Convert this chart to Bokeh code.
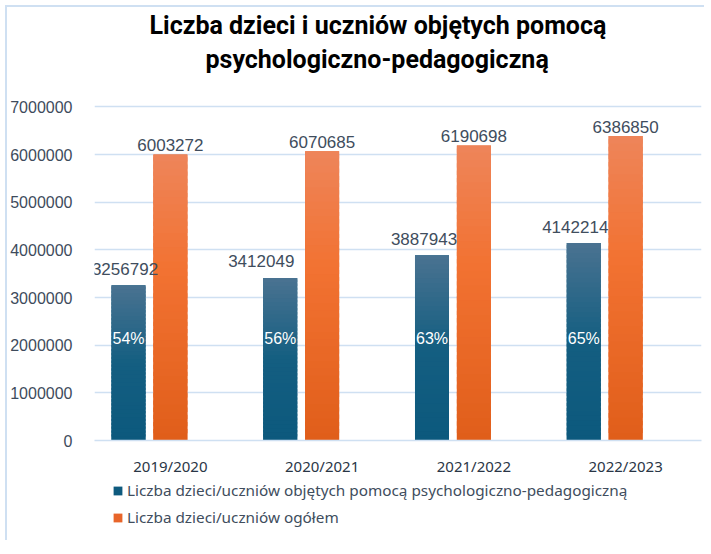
from bokeh.plotting import figure
from bokeh.layouts import column
from bokeh.models import (ColumnDataSource, FactorRange, Range1d, FixedTicker,
                          Legend, LegendItem, Title)
from bokeh.transform import dodge
from bokeh.core.properties import value
from bokeh.embed import file_html
from bokeh.resources import INLINE

# ---------------- data ----------------
years = ["2019/2020", "2020/2021", "2021/2022", "2022/2023"]
supported = [3256792, 3412049, 3887943, 4142214]
total = [6003272, 6070685, 6190698, 6386850]
share_labels = ["54%", "56%", "63%", "65%"]
series_names = [
    "Liczba dzieci/uczniów objętych pomocą psychologiczno-pedagogiczną",
    "Liczba dzieci/uczniów ogółem",
]
title_lines = ["Liczba dzieci i uczniów objętych pomocą", "psychologiczno-pedagogiczną"]
y_ticks = [0, 1000000, 2000000, 3000000, 4000000, 5000000, 6000000, 7000000]
y_tick_labels = ["0", "1000000", "2000000", "3000000", "4000000", "5000000", "6000000", "7000000"]

# ---------------- style ----------------
BLUE_STOPS = [(0.0, (12, 89, 125)), (0.5, (20, 94, 129)), (1.0, (74, 115, 145))]
ORANGE_STOPS = [(0.0, (224, 94, 26)), (0.6, (242, 114, 50)), (1.0, (238, 133, 90))]
BLUE_SOLID = "#0e5a7e"
ORANGE_SOLID = "#e8652a"
BAR_W = 0.224
SLOT = 0.276
BLUE_LABEL_DX = [-3.5, -19, -8, -8.5]
PCT_Y = 2140000
GRID = "#cfe0f2"
TXT = "#404d5d"
N_SLICES = 40
TITLE_OFFSETS = [55, 111]      # px from the plot frame's left edge
TITLE_STANDOFF = 3

W = 697


def hexc(c):
    return "#%02x%02x%02x" % tuple(int(round(v)) for v in c)


def interp(stops, t):
    for (t0, c0), (t1, c1) in zip(stops[:-1], stops[1:]):
        if t <= t1:
            f = (t - t0) / (t1 - t0)
            return hexc([a + (b - a) * f for a, b in zip(c0, c1)])
    return hexc(stops[-1][1])


def slices(vals, stops):
    xs, bots, tops, cols = [], [], [], []
    for cat, v in zip(years, vals):
        for k in range(N_SLICES):
            xs.append(cat)
            bots.append(v * k / N_SLICES)
            tops.append(min(v, v * (k + 1.6) / N_SLICES))
            cols.append(interp(stops, (k + 0.5) / N_SLICES))
    return ColumnDataSource(dict(x=xs, bottom=bots, top=tops, color=cols))


p = figure(
    x_range=FactorRange(factors=years, range_padding=0),
    y_range=Range1d(0, 7050000),
    width=W, height=473,
    output_backend="svg", toolbar_location=None,
    min_border_left=85, min_border_right=3,
    min_border_top=97, min_border_bottom=40,
)
p.outline_line_color = None
p.background_fill_color = "white"
p.border_fill_color = "white"

src = ColumnDataSource(dict(
    years=years,
    supported=supported,
    total=total,
    supported_txt=[str(v) for v in supported],
    total_txt=[str(v) for v in total],
    share=share_labels,
    blue_dx=BLUE_LABEL_DX,
))

x_blue = dodge("years", -SLOT, range=p.x_range)
x_orange = dodge("years", 0.0, range=p.x_range)

p.vbar(x=x_blue, top="supported", width=BAR_W, source=src,
       fill_color=BLUE_SOLID, line_color=None)
p.vbar(x=x_orange, top="total", width=BAR_W, source=src,
       fill_color=ORANGE_SOLID, line_color=None)

p.vbar(x=dodge("x", -SLOT, range=p.x_range), bottom="bottom", top="top", width=BAR_W,
       source=slices(supported, BLUE_STOPS), fill_color="color", line_color=None)
p.vbar(x=dodge("x", 0.0, range=p.x_range), bottom="bottom", top="top", width=BAR_W,
       source=slices(total, ORANGE_STOPS), fill_color="color", line_color=None)

# value labels
p.text(x=x_blue, y="supported", text="supported_txt", source=src,
       x_offset="blue_dx", y_offset=-16.5,
       text_align="center", text_baseline="middle",
       text_font=value("Liberation Sans"), text_font_size="17px", text_color=TXT)
p.text(x=x_orange, y="total", text="total_txt", source=src,
       y_offset=-9.5,
       text_align="center", text_baseline="middle",
       text_font=value("Liberation Sans"), text_font_size="17px", text_color=TXT)
p.text(x=x_blue, y=PCT_Y, text="share", source=src,
       text_align="center", text_baseline="middle",
       text_font=value("Liberation Sans"), text_font_size="16px", text_color="white")

# titles: spacer next to the plot, then the second line, then the first line
p.add_layout(Title(text=" ", text_font_size="10px", standoff=16), "above")
for line, off in reversed(list(zip(title_lines, TITLE_OFFSETS))):
    p.add_layout(Title(text=line, align="left", offset=off,
                       text_font="Roboto", text_font_style="bold",
                       text_font_size="25px", text_color="#000000",
                       standoff=TITLE_STANDOFF), "above")

# axes
p.xaxis.axis_line_color = GRID
p.xaxis.axis_line_width = 1.5
p.xaxis.major_tick_line_color = None
p.xaxis.minor_tick_line_color = None
p.xaxis.major_label_text_font = "Noto Sans"
p.xaxis.major_label_text_font_size = "15px"
p.xaxis.major_label_text_color = "#2a3646"
p.xaxis.major_label_standoff = 9

p.yaxis.ticker = FixedTicker(ticks=y_ticks)
p.yaxis.major_label_overrides = {t: l for t, l in zip(y_ticks, y_tick_labels)}
p.yaxis.axis_line_color = None
p.yaxis.major_tick_line_color = None
p.yaxis.minor_tick_line_color = None
p.yaxis.major_label_text_font = "Liberation Sans"
p.yaxis.major_label_text_font_size = "16px"
p.yaxis.major_label_text_color = "#3e4b5c"
p.yaxis.major_label_standoff = 16

p.xgrid.grid_line_color = None
p.ygrid.grid_line_color = GRID
p.ygrid.grid_line_width = 1.5

# ---------------- legend strip ----------------
leg = figure(width=W, height=60, x_range=Range1d(0, 1), y_range=Range1d(0, 1),
             output_backend="svg", toolbar_location=None,
             x_axis_location=None, y_axis_location=None,
             min_border_left=0, min_border_right=0, min_border_top=0, min_border_bottom=0)
leg.outline_line_color = None
leg.xgrid.visible = False
leg.ygrid.visible = False
# zero-height placeholders: they only carry the legend swatch colours
swatch = ColumnDataSource(dict(x=[0.5], bottom=[0.0], top=[0.0]))
lb = leg.vbar(x="x", bottom="bottom", top="top", width=0.01, source=swatch,
              fill_color=BLUE_SOLID, line_color=None)
lo = leg.vbar(x="x", bottom="bottom", top="top", width=0.01, source=swatch,
              fill_color=ORANGE_SOLID, line_color=None)

legend = Legend(
    items=[LegendItem(label=series_names[0], renderers=[lb]),
           LegendItem(label=series_names[1], renderers=[lo])],
    location=(18, 13), orientation="vertical",
    padding=0, margin=0, spacing=7, label_height=20,
    glyph_height=11, glyph_width=11, label_standoff=4,
    label_text_font="Noto Sans", label_text_font_size="15.3px",
    label_text_color=TXT, border_line_color=None, background_fill_alpha=0,
)
leg.add_layout(legend)

layout = column(p, leg, spacing=0)
layout.margin = (5, 0, 0, 5)
layout.styles = {"border-top": "2px solid #cfe0f2", "border-left": "2px solid #cfe0f2"}

open("out.html", "w").write(file_html(layout, INLINE))
